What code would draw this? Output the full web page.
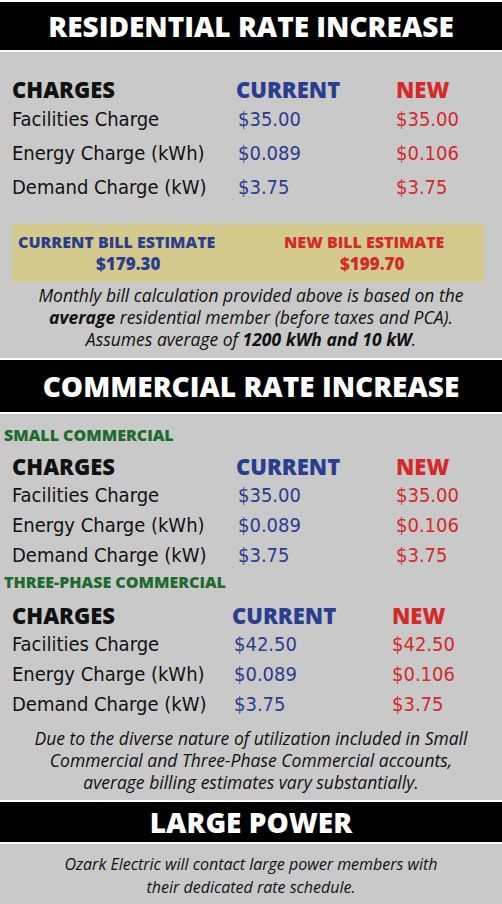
<!DOCTYPE html>
<html><head><meta charset="utf-8">
<script src="https://cdn.jsdelivr.net/npm/chart.js@4"></script>
<style>
body{margin:0;width:502px;height:904px;background:#c9c9c9;position:relative;overflow:hidden;font-family:"Liberation Sans Narrow","DejaVu Sans Condensed","Open Sans",sans-serif}
.bar{position:absolute;left:0;width:502px;background:#000;color:#fff;font:800 28px "Open Sans","DejaVu Sans",sans-serif;text-align:center;border-bottom:2px solid #fff;border-top:2px solid #fff;box-sizing:border-box}
.t{position:absolute;white-space:nowrap;font-size:20px;color:#111;line-height:1}
.h{font:800 22px "Open Sans","DejaVu Sans",sans-serif;line-height:1}
.cur{color:#2b3d8f}.new{color:#d42a2a}
.g{color:#1d6b2e;font:800 16px "Open Sans","DejaVu Sans",sans-serif;line-height:1}
.note{position:absolute;left:0;width:502px;text-align:center;font-style:italic;font-size:17.5px;line-height:22px;color:#111;font-family:"Open Sans","DejaVu Sans",sans-serif}
#box{position:absolute;left:12px;top:224px;width:472px;height:58px;background:#d5ca8e}
</style></head><body>
<div class="bar" style="top:0;height:52px;line-height:48px">RESIDENTIAL RATE INCREASE</div>
<div class="bar" style="top:358px;height:56px;line-height:52px">COMMERCIAL RATE INCREASE</div>
<div class="bar" style="top:800px;height:44px;line-height:40px">LARGE POWER</div>
<div id="box"></div>
<div id="root"></div>
<canvas id="c" width="1" height="1" style="display:none"></canvas>
<script>
const chargeNames = ['Facilities Charge', 'Energy Charge (kWh)', 'Demand Charge (kW)'];
const resCurrent = ['$35.00', '$0.089', '$3.75'];
const resNew = ['$35.00', '$0.106', '$3.75'];
const smallCurrent = ['$35.00', '$0.089', '$3.75'];
const smallNew = ['$35.00', '$0.106', '$3.75'];
const threeCurrent = ['$42.50', '$0.089', '$3.75'];
const threeNew = ['$42.50', '$0.106', '$3.75'];
const billEstimates = ['$179.30', '$199.70'];

const root = document.getElementById('root');
function txt(s, x, y, cls, style) {
  const d = document.createElement('div');
  d.className = 't ' + (cls || '');
  d.textContent = s;
  d.style.left = x + 'px'; d.style.top = y + 'px';
  if (style) d.style.cssText += style;
  root.appendChild(d);
}
function table(y0, step, cols, cur, nw, hy) {
  txt('CHARGES', 12, hy, 'h');
  txt('CURRENT', cols[0], hy, 'h cur');
  txt('NEW', cols[1], hy, 'h new');
  chargeNames.forEach((n, i) => {
    const y = y0 + i * step;
    txt(n, 12, y);
    txt(cur[i], cols[0] + 2, y, 'cur');
    txt(nw[i], cols[1], y, 'new');
  });
}
table(109, 34, [236, 396], resCurrent, resNew, 78);
txt('CURRENT BILL ESTIMATE', 18, 231, 'cur', 'font:800 16px "Open Sans",sans-serif');
txt(billEstimates[0], 96, 252, 'cur', 'font:800 17px "Open Sans",sans-serif');
txt('NEW BILL ESTIMATE', 284, 231, 'new', 'font:800 16px "Open Sans",sans-serif');
txt(billEstimates[1], 340, 252, 'new', 'font:800 17px "Open Sans",sans-serif');

txt('SMALL COMMERCIAL', 4, 427, 'g');
table(485, 30, [236, 396], smallCurrent, smallNew, 455);
txt('THREE-PHASE COMMERCIAL', 4, 574, 'g');
table(634, 30, [232, 392], threeCurrent, threeNew, 604);

function note(html, y) {
  const d = document.createElement('div');
  d.className = 'note'; d.style.top = y + 'px'; d.innerHTML = html;
  root.appendChild(d);
}
note('Monthly bill calculation provided above is based on the<br><b>average</b> residential member (before taxes and PCA).<br>Assumes average of <b>1200 kWh and 10 kW</b>.', 284);
note('Due to the diverse nature of utilization included in Small<br>Commercial and Three-Phase Commercial accounts,<br>average billing estimates vary substantially.', 727);
note('<span style="font-size:16px">Ozark Electric will contact large power members with<br>their dedicated rate schedule.</span>', 852);
</script>
</body></html>
